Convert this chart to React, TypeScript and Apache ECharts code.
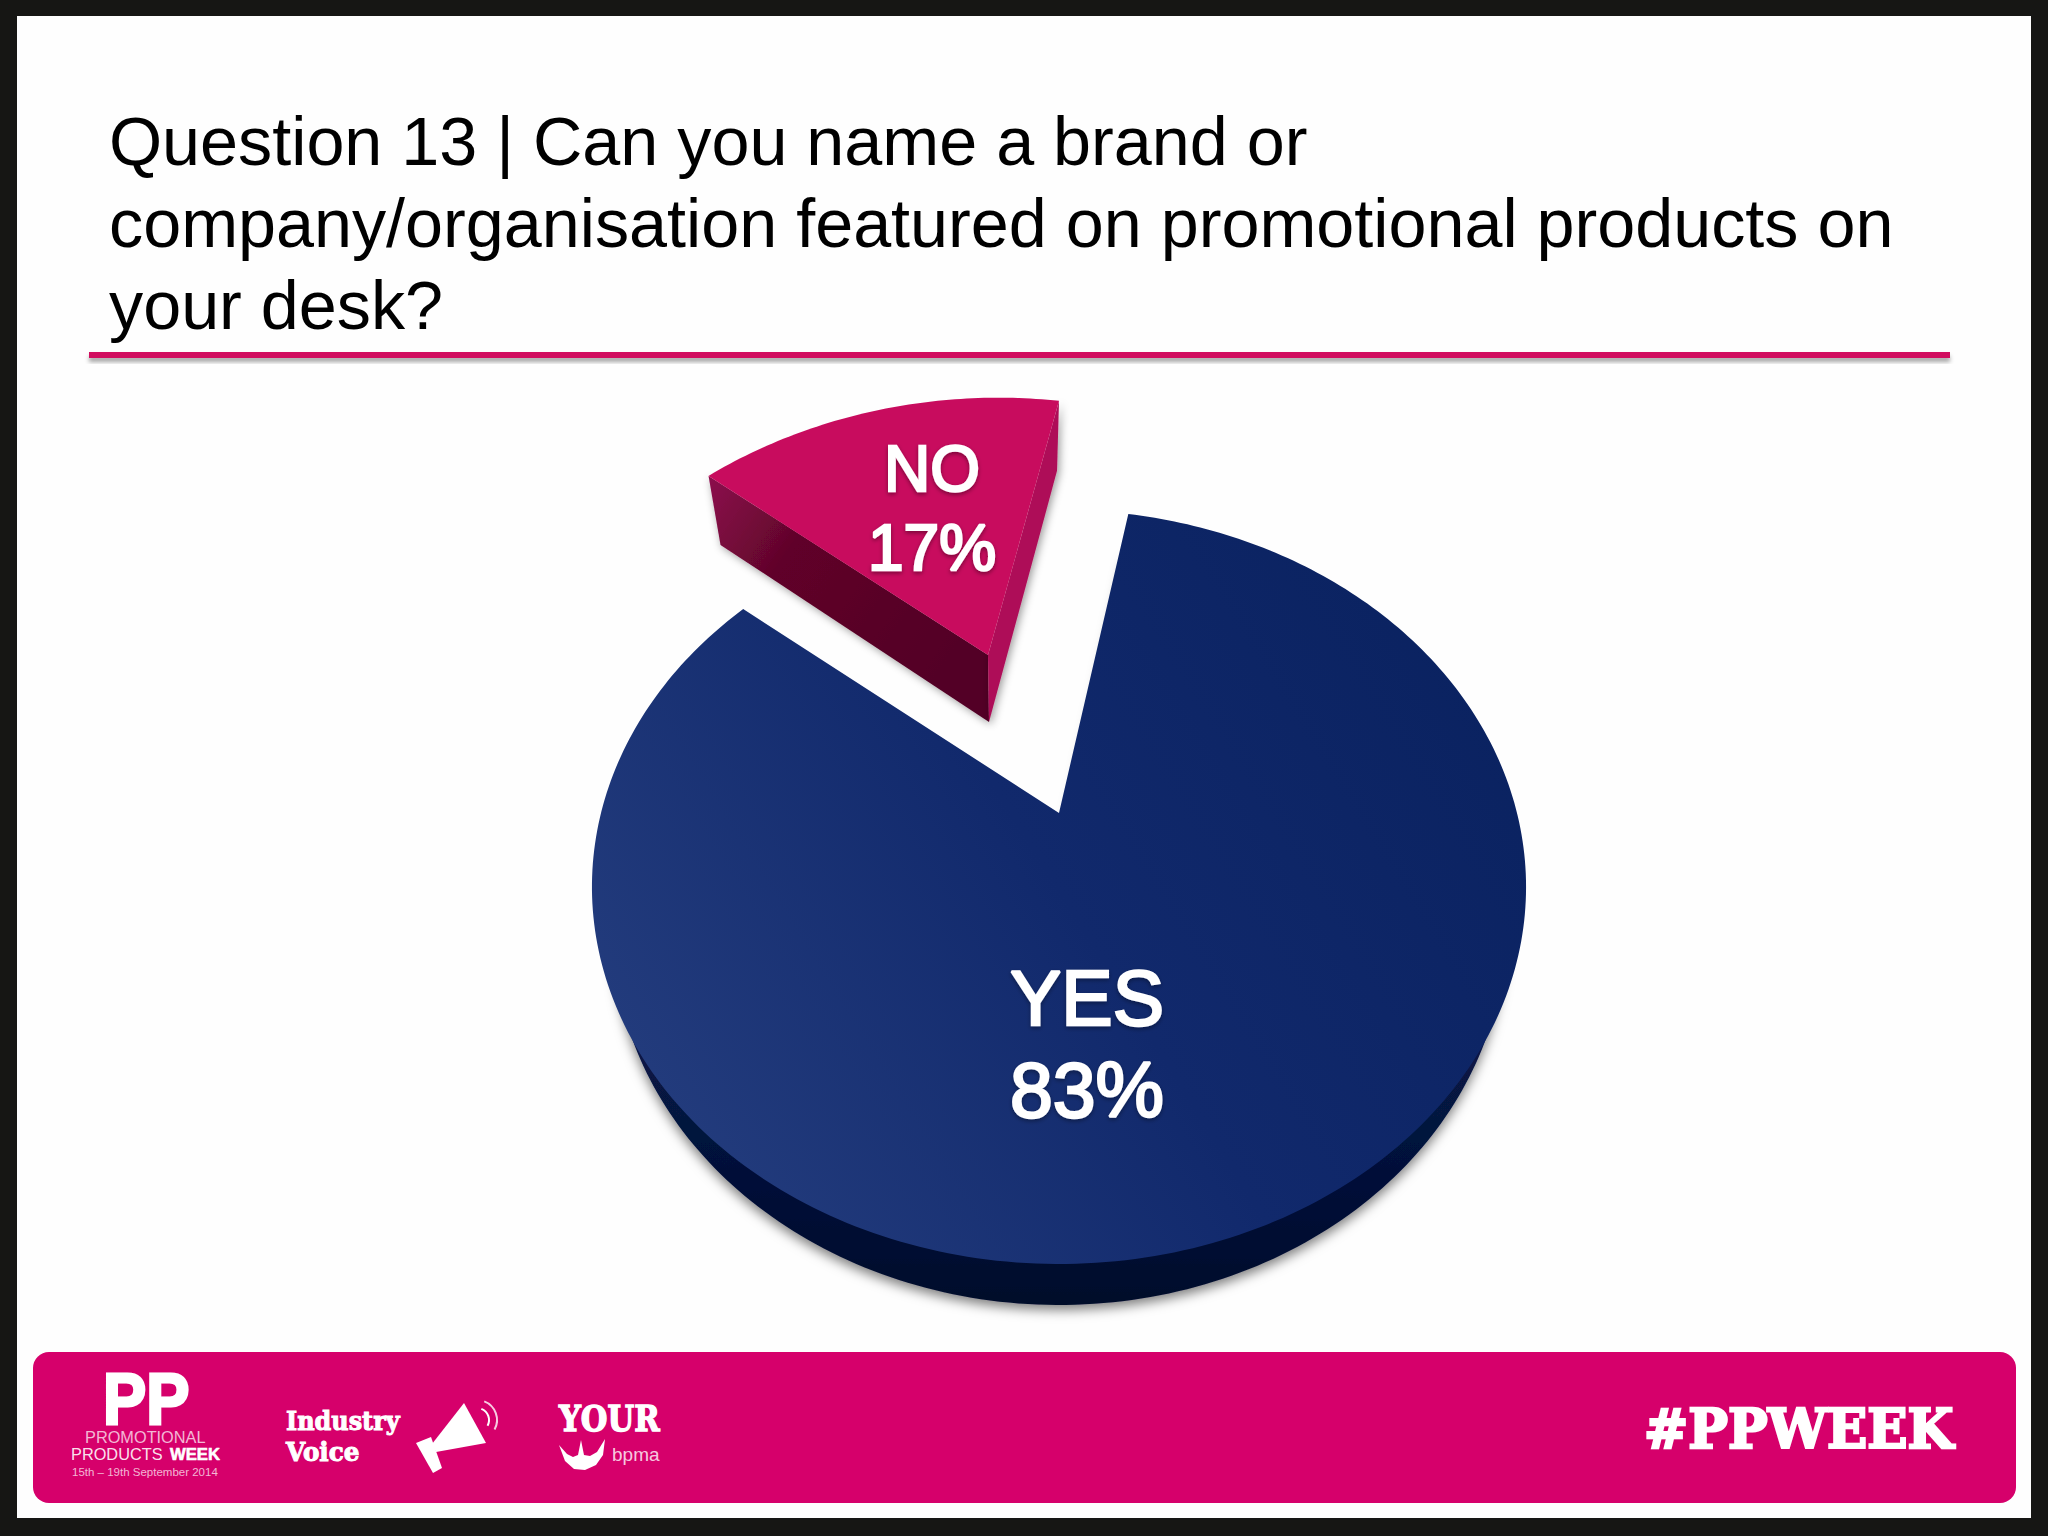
import React, { useEffect, useRef } from "react";
import * as echarts from "echarts";

const categories = ["YES", "NO"];
const values = [83, 17];
const titleLines = [
  "Question 13 | Can you name a brand or",
  "company/organisation featured on promotional products on",
  "your desk?",
];
const hashtag = "#PPWEEK";

const total = values.reduce((a, b) => a + b, 0);
const START_ANGLE = 10.4;
const RAD = Math.PI / 180;

type Frame = { cx: number; cy: number; A: number; B: number; S: number; k: number };
const yesTop: Frame = { cx: 1059, cy: 813, A: 458, B: 362.6, S: 0, k: 0.196 };
const yesSide: Frame = { cx: 1059, cy: 854, A: 438, B: 362.6, S: 0, k: 0.196 };
const noTop: Frame = { cx: 988, cy: 655, A: 447.7, B: 343, S: -13.7, k: 0.333 };

function project(f: Frame, deg: number): number[] {
  const u = Math.sin(deg * RAD);
  const v = -Math.cos(deg * RAD);
  const w = 1 - f.k * v;
  return [f.cx + (f.A * u + f.S * v) / w, f.cy + (f.B * v) / w];
}

function slice(f: Frame, from: number, sweep: number): number[][] {
  const pts: number[][] = [[f.cx, f.cy]];
  const n = Math.ceil(sweep);
  for (let i = 0; i <= n; i++) pts.push(project(f, from + (sweep * i) / n));
  return pts;
}

const sans = "'Liberation Sans', Arial, sans-serif";
const slab = "'DejaVu Serif', serif";

function txt(
  text: string,
  x: number,
  baseline: number,
  fontSize: number,
  opts: { family?: string; weight?: any; fill?: string; align?: string; scaleX?: number; z?: number; bold?: number } = {}
) {
  const fill = opts.fill ?? "#ffffff";
  return {
    type: "text",
    x,
    y: baseline - fontSize * 0.36,
    scaleX: opts.scaleX ?? 1,
    z: opts.z ?? 5,
    silent: true,
    style: {
      text,
      fontSize,
      fontFamily: opts.family ?? sans,
      fontWeight: opts.weight ?? "normal",
      fill,
      align: opts.align ?? "left",
      verticalAlign: "middle",
      ...(opts.bold ? { stroke: fill, lineWidth: opts.bold } : {}),
    },
  };
}

function renderSlice(params: any, api: any) {
  const value = api.value(0);
  const sweep = (value / total) * 360;
  const name = categories[params.dataIndex];
  const label = `${name}\n${value}%`;
  if (params.dataIndex === 0) {
    const side = {
      type: "polygon",
      z2: 1,
      shape: { points: slice(yesSide, START_ANGLE, sweep) },
      style: {
        fill: {
          type: "linear", x: 0, y: 0.5, x2: 0, y2: 1,
          colorStops: [
            { offset: 0, color: "#0a1b52" },
            { offset: 1, color: "#020b2b" },
          ],
        },
        shadowBlur: 12,
        shadowColor: "rgba(0,0,0,0.5)",
        shadowOffsetY: 5,
      },
    };
    const top = {
      type: "polygon",
      z2: 2,
      shape: { points: slice(yesTop, START_ANGLE, sweep) },
      style: {
        fill: {
          type: "linear", x: 0, y: 0.75, x2: 1, y2: 0.25,
          colorStops: [
            { offset: 0, color: "#243d7e" },
            { offset: 0.5, color: "#11296c" },
            { offset: 1, color: "#0a2260" },
          ],
        },
      },
    };
    const text = {
      type: "text",
      x: 1087,
      y: 1044,
      z2: 3,
      style: {
        text: label,
        fontSize: 77,
        lineHeight: 92,
        fontWeight: "normal",
        fontFamily: sans,
        fill: "#ffffff",
        stroke: "#ffffff",
        lineWidth: 2.5,
        align: "center",
        verticalAlign: "middle",
        textShadowColor: "rgba(0,0,0,0.35)",
        textShadowBlur: 4,
        textShadowOffsetY: 2,
      },
    };
    return { type: "group", children: [side, top, text] };
  }
  const from = START_ANGLE + (values[0] / total) * 360;
  const pts = slice(noTop, from, sweep);
  const tip = pts[0];
  const left = pts[1];
  const right = pts[pts.length - 1];
  const tipB = [tip[0] + 1, tip[1] + 67];
  const leftB = [left[0] + 12, left[1] + 69];
  const rightB = [right[0] - 2, right[1] + 70];
  const shadow = {
    shadowBlur: 8,
    shadowColor: "rgba(0,0,0,0.4)",
    shadowOffsetX: 2,
    shadowOffsetY: 2,
  };
  const leftFace = {
    type: "polygon",
    z2: 4,
    shape: { points: [left, tip, tipB, leftB] },
    style: {
      fill: {
        type: "linear", x: 0, y: 0, x2: 1, y2: 0.6,
        colorStops: [
          { offset: 0, color: "#8c0c4d" },
          { offset: 0.35, color: "#600529" },
          { offset: 1, color: "#520225" },
        ],
      },
      ...shadow,
    },
  };
  const rightFace = {
    type: "polygon",
    z2: 4,
    shape: { points: [tip, right, rightB, tipB] },
    style: { fill: "#ae0f59", ...shadow },
  };
  const top = {
    type: "polygon",
    z2: 5,
    shape: { points: pts },
    style: { fill: "#c80c5e" },
  };
  const text = {
    type: "text",
    x: 932,
    y: 508,
    z2: 6,
    style: {
      text: label,
      fontSize: 64,
      lineHeight: 79,
      fontWeight: "normal",
      fontFamily: sans,
      fill: "#ffffff",
      stroke: "#ffffff",
      lineWidth: 2.5,
      align: "center",
      verticalAlign: "middle",
      textShadowColor: "rgba(0,0,0,0.4)",
      textShadowBlur: 4,
      textShadowOffsetY: 2,
    },
  };
  return { type: "group", children: [leftFace, rightFace, top, text] };
}

export default function App() {
  const ref = useRef<HTMLDivElement>(null);
  useEffect(() => {
    document.body.style.margin = "0";
    const chart = echarts.init(ref.current!, undefined, { renderer: "svg" });
    const pink = "#d6006b";
    const graphics: any[] = [
      { type: "rect", z: 0, silent: true, shape: { x: 0, y: 0, width: 2048, height: 1536 }, style: { fill: "#161614" } },
      { type: "rect", z: 1, silent: true, shape: { x: 17, y: 16, width: 2014, height: 1502 }, style: { fill: "#fefefe" } },
      ...titleLines.map((t, i) => txt(t, 109, [166, 248, 330][i], 68.3, { fill: "#000000" })),
      {
        type: "rect", z: 2, silent: true,
        shape: { x: 89, y: 352, width: 1861, height: 6 },
        style: { fill: "#d1085f", shadowBlur: 4, shadowColor: "rgba(0,0,0,0.35)", shadowOffsetY: 4 },
      },
      { type: "rect", z: 2, silent: true, shape: { x: 33, y: 1352, width: 1983, height: 151, r: 16 }, style: { fill: pink } },
      txt("PP", 103, 1425, 72, { weight: "bold", scaleX: 0.9, bold: 3 }),
      txt("PROMOTIONAL", 85, 1444, 17, { fill: "rgba(255,255,255,0.72)", scaleX: 0.96 }),
      txt("PRODUCTS", 71, 1461, 17, { fill: "rgba(255,255,255,0.9)", scaleX: 0.96 }),
      txt("WEEK", 170, 1461, 17, { weight: "bold", scaleX: 0.98, bold: 0.6 }),
      txt("15th – 19th September 2014", 72, 1476, 11.5, { fill: "rgba(255,255,255,0.72)" }),
      txt("Industry", 286, 1431, 26, { family: slab, weight: "bold", scaleX: 0.92, bold: 1 }),
      txt("Voice", 286, 1461, 26, { family: slab, weight: "bold", scaleX: 0.95, bold: 1 }),
      {
        type: "polygon", z: 5, silent: true,
        shape: { points: [[464, 1403], [486, 1443], [436, 1452], [432, 1444]] },
        style: { fill: "#ffffff" },
      },
      {
        type: "polygon", z: 5, silent: true,
        shape: { points: [[416, 1443], [431, 1437], [442, 1468], [433, 1473]] },
        style: { fill: "#ffffff" },
      },
      {
        type: "arc", z: 5, silent: true,
        shape: { cx: 477, cy: 1420, r: 12, startAngle: -1.2, endAngle: 0.5 },
        style: { fill: "none", stroke: "#ffffff", lineWidth: 2 },
      },
      {
        type: "arc", z: 5, silent: true,
        shape: { cx: 477, cy: 1420, r: 20, startAngle: -1.2, endAngle: 0.5 },
        style: { fill: "none", stroke: "rgba(255,255,255,0.8)", lineWidth: 2 },
      },
      txt("YOUR", 559, 1432, 36, { family: slab, weight: "bold", scaleX: 0.85, bold: 1.5 }),
      {
        type: "polygon", z: 5, silent: true,
        shape: {
          points: [
            [559, 1445], [567, 1454], [573, 1457], [578, 1455], [581, 1440], [584, 1455],
            [590, 1456], [597, 1452], [605, 1439], [603, 1455], [596, 1465], [585, 1470],
            [574, 1469], [565, 1461],
          ],
        },
        style: { fill: "#ffffff" },
      },
      txt("bpma", 612, 1461, 19, { fill: "rgba(255,255,255,0.8)" }),
      txt(hashtag, 1644, 1448, 55, { family: slab, weight: "bold", scaleX: 0.96, bold: 2.5 }),
    ];
    chart.setOption({
      animation: false,
      graphic: { elements: graphics },
      series: [
        {
          type: "custom",
          coordinateSystem: "none",
          z: 3,
          silent: true,
          renderItem: renderSlice,
          data: values.map((v, i) => ({ name: categories[i], value: v })),
        },
      ],
    });
    return () => chart.dispose();
  }, []);
  return <div ref={ref} style={{ position: "absolute", left: 0, top: 0, width: 2048, height: 1536 }} />;
}
